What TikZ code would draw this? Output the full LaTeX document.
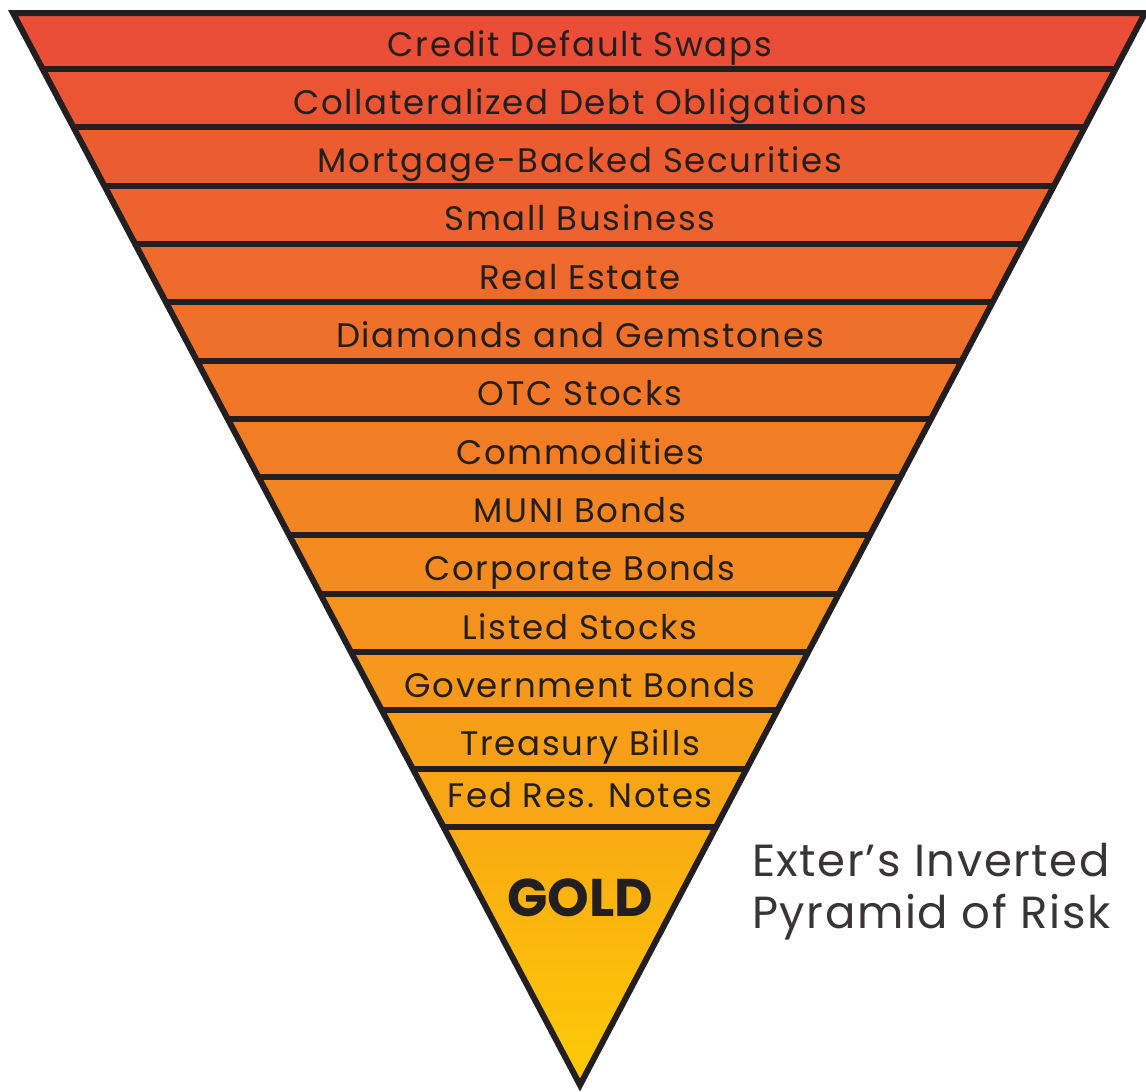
\documentclass[tikz,border=0pt]{standalone}
\usepackage{fontspec}
\setmainfont{Poppins}
\definecolor{inkgray}{HTML}{231F20}
\definecolor{riskred}{RGB}{234,78,54}
\definecolor{riskamber}{RGB}{248,166,22}
\definecolor{goldtop}{RGB}{249,170,19}
\definecolor{goldbot}{RGB}{254,204,6}
\tikzset{
  bandlabel/.style={font=\fontsize{34}{38}\selectfont\addfontfeature{LetterSpace=5}, text=inkgray, anchor=base, inner sep=0pt},
  goldlabel/.style={font=\fontsize{53}{58}\bfseries\selectfont, text=inkgray, anchor=base, inner sep=0pt},
  titlelabel/.style={font=\fontsize{45}{50}\selectfont\addfontfeature{LetterSpace=3.5}, text=inkgray!90, anchor=base west, inner sep=0pt},
  divider/.style={line width=6pt, draw=inkgray},
  outline/.style={line width=6pt, draw=inkgray, line join=miter},
}

\begin{document}
\begin{tikzpicture}[x=1pt,y=-1pt]
  \useasboundingbox (0,0) rectangle (1146,1092);
  \coordinate (tl) at (13,13);
  \coordinate (tr) at (1145,13);
  \coordinate (apex) at (580,1085);

  % bands, clipped to the triangle
  \begin{scope}
    \clip (tl) -- (tr) -- (apex) -- cycle;
    \foreach \i in {0,...,13}{
      \pgfmathsetmacro\pct{\i*100/13}
      \fill[riskamber!\pct!riskred] (0,{10.7+58.3*\i}) rectangle (1146,{69+58.3*\i});
    }
    \fill[top color=goldtop, bottom color=goldbot] (0,827) rectangle (1146,1092);
    \foreach \k in {0,...,13}
      \draw[divider] (0,{69+58.3*\k}) -- (1146,{69+58.3*\k});
  \end{scope}
  \draw[outline] (tl) -- (tr) -- (apex) -- cycle;

  \foreach \lbl [count=\i from 0] in {Credit Default Swaps, Collateralized Debt Obligations,
      Mortgage-Backed Securities, Small Business, Real Estate, Diamonds and Gemstones,
      OTC Stocks, Commodities, MUNI Bonds, Corporate Bonds, Listed Stocks,
      Government Bonds, Treasury Bills}
    \node[bandlabel] (band\i) at (580,{56+58.3*\i}) {\lbl};
  \node[bandlabel] (band13) at (580,807) {Fed Res. Notes};

  \node[goldlabel] (gold) at (580,916) {GOLD};
  \node[titlelabel] (title1) at (752,876) {Exter’s Inverted};
  \node[titlelabel] (title2) at (752,928) {Pyramid of Risk};
\end{tikzpicture}
\end{document}
